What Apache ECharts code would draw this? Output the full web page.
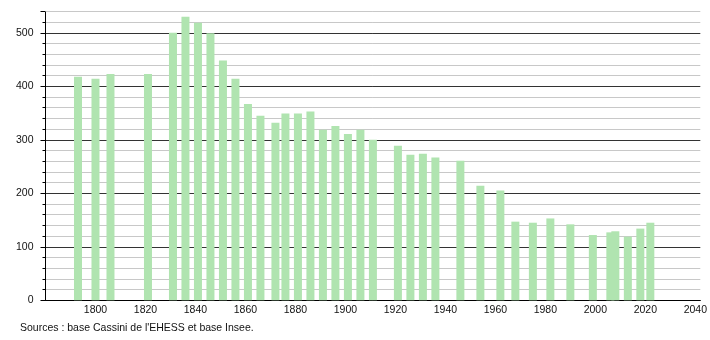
<!DOCTYPE html>
<html>
<head>
<meta charset="utf-8">
<script src="https://cdn.jsdelivr.net/npm/echarts@6/dist/echarts.min.js"></script>
<style>
html,body{margin:0;padding:0;background:#fff;}
#chart{width:710px;height:340px;}
</style>
</head>
<body>
<div id="chart"></div>
<script>
const years = [1793,1800,1806,1821,1831,1836,1841,1846,1851,1856,1861,1866,1872,1876,1881,1886,1891,1896,1901,1906,1911,1921,1926,1931,1936,1946,1954,1962,1968,1975,1982,1990,1999,2006,2008,2013,2018,2022];
const population = [418,414,423,423,500,530,519,499,448,414,367,345,332,349,349,353,319,326,311,319,300,289,272,274,267,261,214,205,147,145,153,142,122,127,129,119,134,145];
const sourceText = "Sources : base Cassini de l'EHESS et base Insee.";
const yMax = 540;

const chart = echarts.init(document.getElementById('chart'), null, {renderer:'canvas'});
const font = '"Liberation Sans", Arial, sans-serif';
chart.setOption({
  animation: false,
  grid: {left: 45.5, right: 9.5, top: 11.4, bottom: 39.7},
  xAxis: {
    type: 'value', min: 1780, max: 2042, interval: 20,
    axisLine: {show: true, onZero: false, lineStyle: {color: '#000', width: 1}},
    axisTick: {show: false},
    splitLine: {show: false},
    axisLabel: {
      color: '#111', fontFamily: font, fontSize: 10.5, margin: 4,
      formatter: v => (v === 1780 ? '' : String(v))
    }
  },
  yAxis: {
    type: 'value', min: 0, max: yMax, interval: 100,
    axisLine: {show: true, lineStyle: {color: '#000', width: 1}},
    axisTick: {show: true, length: 5, lineStyle: {color: '#000'}},
    minorTick: {show: true, splitNumber: 5, length: 3, lineStyle: {color: '#000'}},
    splitLine: {show: true, showMaxLine: false, lineStyle: {color: '#333', width: 1}},
    minorSplitLine: {show: true, lineStyle: {color: '#c8c8c8', width: 1}},
    axisLabel: {
      color: '#111', fontFamily: font, fontSize: 10.5, margin: 12,
      formatter: v => (v % 100 === 0 ? String(v) : '')
    }
  },
  series: [{
    type: 'bar',
    barWidth: 8,
    itemStyle: {color: '#b0e4b0'},
    data: years.map((y, i) => [y, population[i]]),
    markLine: {
      silent: true, symbol: 'none', label: {show: false},
      lineStyle: {color: '#c8c8c8', width: 1, type: 'solid'},
      data: [{yAxis: yMax}]
    }
  }],
  graphic: [{
    type: 'text', left: 20, top: 323,
    style: {text: sourceText, fill: '#111', font: '10.5px ' + font}
  }]
});
</script>
</body>
</html>
